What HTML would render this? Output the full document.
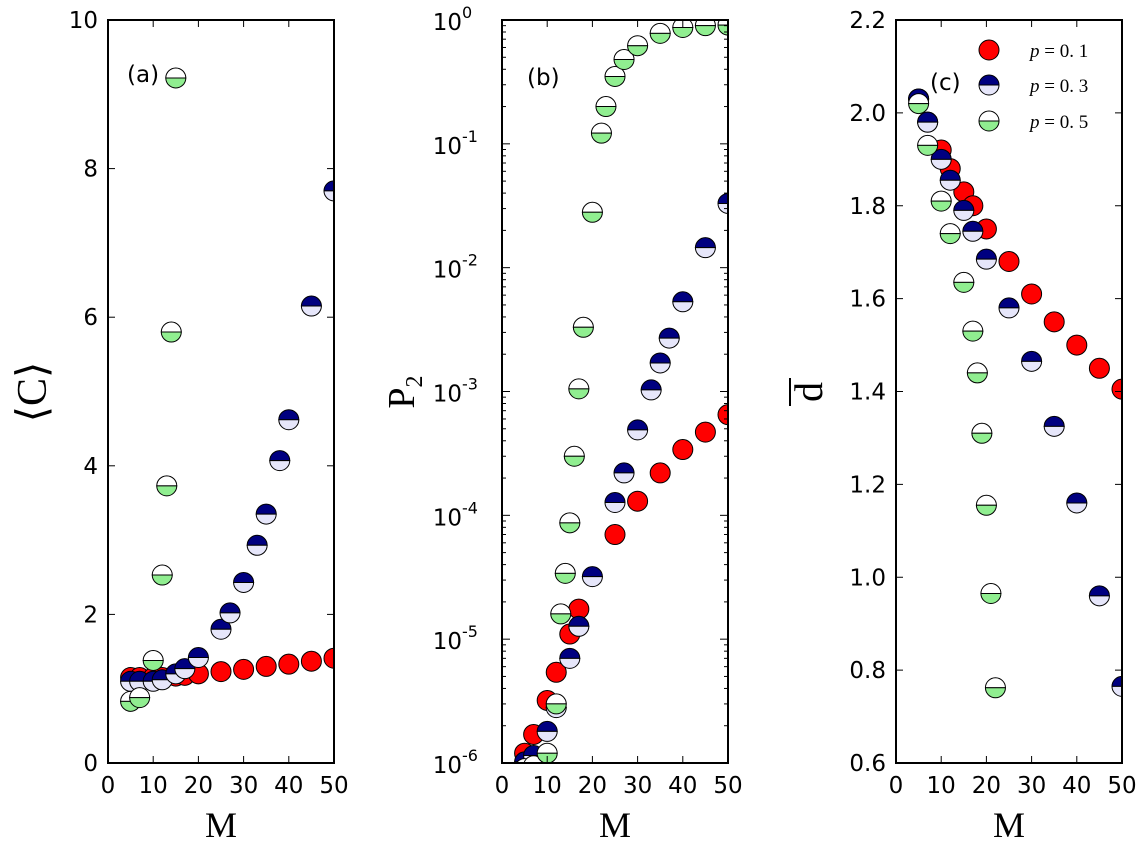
<!DOCTYPE html>
<html><head><meta charset="utf-8"><style>
html,body{margin:0;padding:0;background:#fff;}
svg{display:block;}
</style></head><body>
<svg id="s" width="1139" height="842" xmlns="http://www.w3.org/2000/svg"></svg>
<script>
const S=document.getElementById('s');let h='';
const SANS='font-family:\'DejaVu Sans\',\'Liberation Sans\',sans-serif;';
const SERIF='font-family:\'Liberation Serif\',\'DejaVu Serif\',serif;';
const T=20,B=763,W=226;
const panels=[
 {L:108,type:'lin',y0:0,y1:10,ticks:[0,2,4,6,8,10],fmt:v=>String(v),lab:'(a)',lx:127,ly:82,
  red:[[5,1.15],[7,1.15],[10,1.15],[12,1.15],[15,1.17],[17,1.18],[20,1.2],[25,1.23],[30,1.26],[35,1.3],[40,1.33],[45,1.37],[50,1.41]],
  blue:[[5,1.1],[7,1.1],[10,1.1],[12,1.12],[15,1.2],[17,1.27],[20,1.42],[25,1.8],[27,2.02],[30,2.43],[33,2.93],[35,3.35],[38,4.07],[40,4.62],[45,6.15],[50,7.7]],
  green:[[5,0.83],[7,0.88],[10,1.38],[12,2.53],[13,3.73],[14,5.8],[15,9.22]]},
 {L:502,type:'log',y0:-6,y1:0,lab:'(b)',lx:527,ly:85,
  red:[[5,1.2e-6],[7,1.7e-6],[10,3.2e-6],[12,5.4e-6],[15,1.1e-5],[17,1.75e-5],[25,7e-5],[30,1.3e-4],[35,2.2e-4],[40,3.4e-4],[45,4.7e-4],[50,6.5e-4]],
  blue:[[5,1.02e-6],[7,1.15e-6],[10,1.8e-6],[12,2.8e-6],[15,7e-6],[17,1.27e-5],[20,3.2e-5],[25,1.27e-4],[27,2.2e-4],[30,4.9e-4],[33,1.03e-3],[35,1.7e-3],[37,2.7e-3],[40,5.3e-3],[45,0.0145],[50,0.033]],
  green:[[5,0.9e-6],[7,0.95e-6],[10,1.2e-6],[12,3e-6],[13,1.6e-5],[14,3.4e-5],[15,8.7e-5],[16,3e-4],[17,1.05e-3],[18,3.3e-3],[20,0.028],[22,0.122],[23,0.2],[25,0.35],[27,0.48],[30,0.62],[35,0.78],[40,0.87],[45,0.9],[50,0.91]]},
 {L:896,type:'lin',y0:0.6,y1:2.2,ticks:[0.6,0.8,1.0,1.2,1.4,1.6,1.8,2.0,2.2],fmt:v=>v.toFixed(1),lab:'(c)',lx:930,ly:90,
  red:[[5,2.03],[7,1.98],[10,1.92],[12,1.88],[15,1.83],[17,1.8],[20,1.75],[25,1.68],[30,1.61],[35,1.55],[40,1.5],[45,1.45],[50,1.405]],
  blue:[[5,2.03],[7,1.98],[10,1.9],[12,1.855],[15,1.79],[17,1.745],[20,1.685],[25,1.58],[30,1.465],[35,1.325],[40,1.16],[45,0.96],[50,0.765]],
  green:[[5,2.02],[7,1.93],[10,1.81],[12,1.74],[15,1.635],[17,1.53],[18,1.44],[19,1.31],[20,1.155],[21,0.965],[22,0.762]]}
];
function mk(x,y,c){
 const r=10;
 if(c==='red') return `<circle cx="${x}" cy="${y}" r="${r}" fill="#ff0000" stroke="#000" stroke-width="1"/>`;
 const top=c==='blue'?'#000080':'#ffffff', bot=c==='blue'?'#e6e6fa':'#90ee90';
 return `<path d="M${x-r},${y} A${r},${r} 0 0 1 ${x+r},${y} Z" fill="${top}" stroke="#000" stroke-width="1"/>`+
        `<path d="M${x-r},${y} A${r},${r} 0 0 0 ${x+r},${y} Z" fill="${bot}" stroke="#000" stroke-width="1"/>`;
}
panels.forEach((p,i)=>{
 const L=p.L,R=L+W;
 const X=m=>L+m*W/50;
 const Y=v=>p.type==='log'?T+(0-Math.log10(v))*(B-T)/6:B-(v-p.y0)*(B-T)/(p.y1-p.y0);
 h+=`<clipPath id="c${i}"><rect x="${L}" y="${T}" width="${W}" height="${B-T}"/></clipPath>`;
 h+=`<g clip-path="url(#c${i})">`;
 ['red','blue','green'].forEach(c=>p[c].forEach(d=>h+=mk(X(d[0]),Y(d[1]),c)));
 h+='</g>';
 h+=`<rect x="${L}" y="${T}" width="${W}" height="${B-T}" fill="none" stroke="#000" stroke-width="2"/>`;
 for(let m=0;m<=50;m+=10){const x=X(m);
  h+=`<line x1="${x}" y1="${B}" x2="${x}" y2="${B-7}" stroke="#000"/><line x1="${x}" y1="${T}" x2="${x}" y2="${T+7}" stroke="#000"/>`;
  h+=`<text x="${x}" y="${B+30}" font-size="23" text-anchor="middle" style="${SANS}">${m}</text>`;}
 if(p.type==='lin'){
  p.ticks.forEach(v=>{const y=Y(v);
   h+=`<line x1="${L}" y1="${y}" x2="${L+7}" y2="${y}" stroke="#000"/><line x1="${R}" y1="${y}" x2="${R-7}" y2="${y}" stroke="#000"/>`;
   h+=`<text x="${L-10}" y="${y+8}" font-size="23" text-anchor="end" style="${SANS}">${p.fmt(v)}</text>`;});
 } else {
  for(let e=-6;e<=0;e++){const y=Y(Math.pow(10,e));
   h+=`<line x1="${L}" y1="${y}" x2="${L+8}" y2="${y}" stroke="#000"/><line x1="${R}" y1="${y}" x2="${R-8}" y2="${y}" stroke="#000"/>`;
   h+=`<text x="${L-40}" y="${y+10}" font-size="23" text-anchor="end" style="${SANS}">10</text><text x="${L-40}" y="${y-2}" font-size="16" text-anchor="start" style="${SANS}">${e}</text>`;
   if(e<0) for(let k=2;k<=9;k++){const yy=Y(k*Math.pow(10,e));
    h+=`<line x1="${L}" y1="${yy}" x2="${L+4}" y2="${yy}" stroke="#000"/><line x1="${R}" y1="${yy}" x2="${R-4}" y2="${yy}" stroke="#000"/>`;}
  }
 }
 h+=`<text x="${p.lx}" y="${p.ly}" font-size="23" style="${SANS}">${p.lab}</text>`;
 h+=`<text x="${L+W/2}" y="837" font-size="36" text-anchor="middle" style="${SERIF}">M</text>`;
});
h+=`<text transform="translate(46,392) rotate(-90)" font-size="42" text-anchor="middle" style="${SERIF}">⟨C⟩</text>`;
h+=`<text transform="translate(414,392) rotate(-90)" font-size="38" text-anchor="middle" style="${SERIF}">P<tspan font-size="24" dy="8">2</tspan></text>`;
h+=`<text transform="translate(822,392) rotate(-90)" font-size="40" text-anchor="middle" style="${SERIF}">d</text>`;
h+=`<line x1="790" y1="378" x2="790" y2="406" stroke="#000" stroke-width="2"/>`;
[['red','1',50],['blue','3',85],['green','5',121]].forEach(l=>{
 h+=mk(989,l[2],l[0]);
 h+=`<text x="1030" y="${l[2]+7}" font-size="19" style="${SERIF}"><tspan font-style="italic">p</tspan> = 0. ${l[1]}</text>`;
});
S.innerHTML=h;
</script>
</body></html>
